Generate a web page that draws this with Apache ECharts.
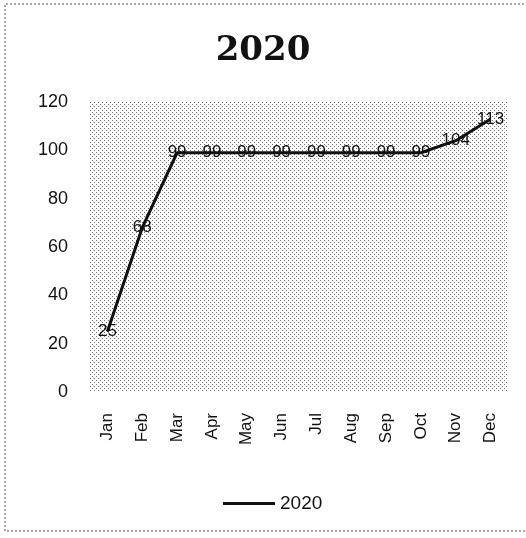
<!DOCTYPE html>
<html>
<head>
<meta charset="utf-8">
<script src="https://cdn.jsdelivr.net/npm/echarts@6/dist/echarts.min.js"></script>
<style>
  html, body { margin: 0; padding: 0; background: #fff; }
  #chart { width: 526px; height: 538px; }
</style>
</head>
<body>
<div id="chart"></div>
<script>
// dati
const months = ["Jan", "Feb", "Mar", "Apr", "May", "Jun", "Jul", "Aug", "Sep", "Oct", "Nov", "Dec"];
const values2020 = [25, 68, 99, 99, 99, 99, 99, 99, 99, 99, 104, 113];
const yTicks = { min: 0, max: 120, interval: 20 };

// tratteggio diagonale del fondo (come la stampa scansionata)
function makeHatch() {
  const c = document.createElement("canvas");
  c.width = 8; c.height = 8;
  const ctx = c.getContext("2d");
  ctx.fillStyle = "#ffffff";
  ctx.fillRect(0, 0, 8, 8);
  ctx.fillStyle = "#6e6e6e";
  for (let i = 0; i < 8; i += 2) {
    ctx.fillRect(i, i, 1, 1);
    ctx.fillRect((i + 4) % 8, i, 1, 1);
  }
  ctx.fillStyle = "#d0d0d0";
  ctx.fillRect(5, 1, 1, 1);
  return c;
}

const chart = echarts.init(document.getElementById("chart"));
chart.setOption({
  animation: false,
  backgroundColor: "#fff",
  title: {
    text: "2020",
    left: "center",
    top: 29,
    textStyle: { fontFamily: "DejaVu Serif", fontWeight: "bold", fontSize: 34, color: "#111" }
  },
  legend: {
    bottom: 20,
    left: 218,
    itemWidth: 52,
    itemHeight: 14,
    itemGap: 6,
    icon: "path://M0,6 L50,6 L50,9 L0,9 Z",
    textStyle: { fontFamily: "Liberation Sans", fontSize: 19, color: "#111" },
    data: ["2020"]
  },
  grid: {
    left: 90, right: 18, top: 102, bottom: 146,
    show: true,
    borderWidth: 0,
    backgroundColor: { image: makeHatch(), repeat: "repeat" }
  },
  xAxis: {
    type: "category",
    data: months,
    axisLine: { show: false },
    axisTick: { show: false },
    axisLabel: {
      rotate: 90,
      margin: 21,
      fontFamily: "Liberation Sans",
      fontSize: 17,
      color: "#111"
    }
  },
  yAxis: {
    type: "value",
    ...yTicks,
    axisLine: { show: false },
    axisTick: { show: false },
    splitLine: { show: false },
    axisLabel: { fontFamily: "Liberation Sans", fontSize: 18, color: "#111", margin: 22 }
  },
  series: [{
    name: "2020",
    type: "line",
    data: values2020,
    showSymbol: true,
    symbol: "circle",
    symbolSize: 1,
    lineStyle: { color: "#111", width: 3 },
    itemStyle: { color: "#111" },
    label: {
      show: true,
      position: "inside",
      fontFamily: "Liberation Sans",
      fontSize: 17,
      color: "#111"
    }
  }],
  graphic: [{
    type: "polyline",
    shape: { points: [[540, 4], [5, 4], [5, 531], [540, 531]] },
    style: { fill: null, stroke: "#555", lineWidth: 1, lineDash: [2, 2] },
    silent: true
  }]
});
</script>
</body>
</html>
